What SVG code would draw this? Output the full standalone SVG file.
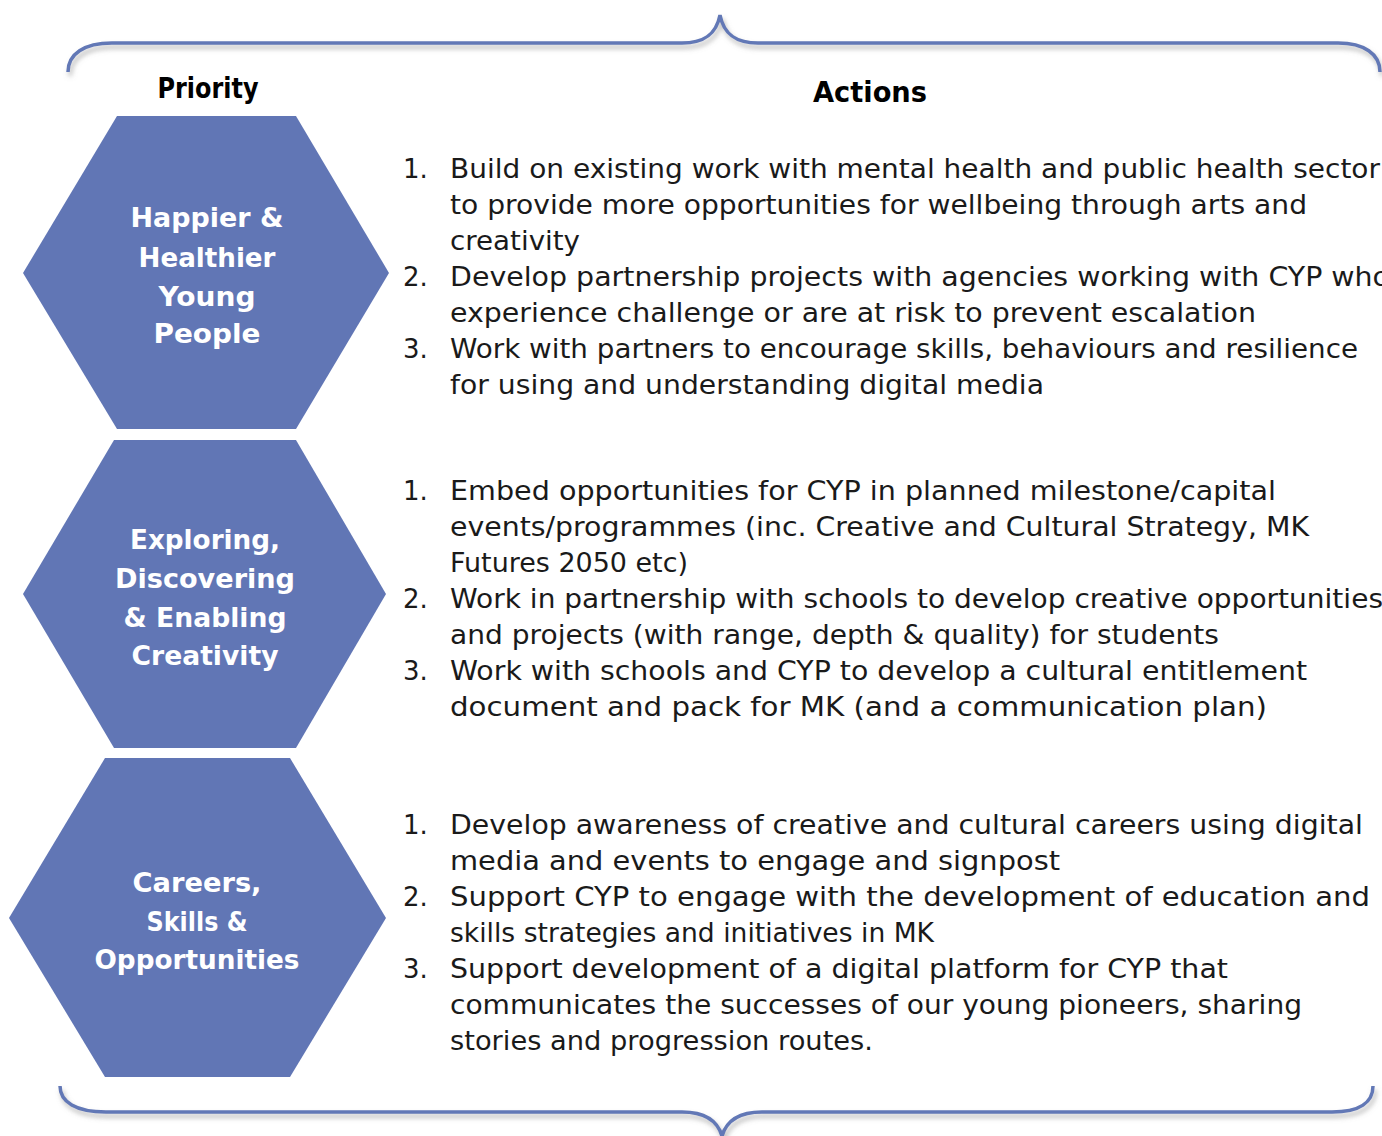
<svg xmlns="http://www.w3.org/2000/svg" width="1382" height="1136" viewBox="0 0 1382 1136">
<defs>
<filter id="sh" x="-5%" y="-50%" width="110%" height="200%">
<feDropShadow dx="2" dy="4" stdDeviation="2.5" flood-color="#808080" flood-opacity="0.55"/>
</filter>
<style>
.brace{fill:none;stroke:#6278B6;stroke-width:3.5;filter:url(#sh)}
.hex{fill:#6176B5}
.hl{font-family:"DejaVu Sans","Liberation Sans",sans-serif;font-weight:bold;font-size:27px;fill:#ffffff;text-anchor:middle}
.hd{font-family:"DejaVu Sans","Liberation Sans",sans-serif;font-weight:bold;font-size:29px;fill:#000000;text-anchor:middle}
.t{font-family:"DejaVu Sans","Liberation Sans",sans-serif;font-size:26px;fill:#1a1a1a}
</style>
</defs>
<rect width="1382" height="1136" fill="#ffffff"/>
<g id="connectors">
<path class="brace" d="M68,72 C68,54 84,43 112,43 L682,43 C702,43 716,36 720,15 C724,36 738,43 758,43 L1338,43 C1364,43 1380,54 1380,72"/>
<path class="brace" d="M60,1086 C60,1102 76,1112 106,1112 L682,1112 C703,1112 717,1119 722,1136 C727,1119 741,1112 762,1112 L1332,1112 C1360,1112 1373,1102 1373,1086"/>
</g>
<g id="headers">
<text class="hd" x="208" y="98" textLength="101" lengthAdjust="spacingAndGlyphs">Priority</text>
<text class="hd" x="870" y="102" textLength="114" lengthAdjust="spacingAndGlyphs">Actions</text>
</g>
<g id="node-happier">
<polygon class="hex" points="117,116 296,116 389,273 296,429 117,429 23,273"/>
<text class="hl" x="207" y="227" textLength="153" lengthAdjust="spacingAndGlyphs">Happier &amp;</text>
<text class="hl" x="207" y="267" textLength="137" lengthAdjust="spacingAndGlyphs">Healthier</text>
<text class="hl" x="207" y="306" textLength="97" lengthAdjust="spacingAndGlyphs">Young</text>
<text class="hl" x="207" y="343" textLength="107" lengthAdjust="spacingAndGlyphs">People</text>
</g>
<g id="node-exploring">
<polygon class="hex" points="114,440 296,440 386,594 296,748 114,748 23,594"/>
<text class="hl" x="205" y="549" textLength="150" lengthAdjust="spacingAndGlyphs">Exploring,</text>
<text class="hl" x="205" y="588" textLength="180" lengthAdjust="spacingAndGlyphs">Discovering</text>
<text class="hl" x="205" y="627" textLength="163" lengthAdjust="spacingAndGlyphs">&amp; Enabling</text>
<text class="hl" x="205" y="665" textLength="147" lengthAdjust="spacingAndGlyphs">Creativity</text>
</g>
<g id="node-careers">
<polygon class="hex" points="105,758 290,758 386,918 290,1077 105,1077 9,918"/>
<text class="hl" x="197" y="892" textLength="129" lengthAdjust="spacingAndGlyphs">Careers,</text>
<text class="hl" x="197" y="931" textLength="101" lengthAdjust="spacingAndGlyphs">Skills &amp;</text>
<text class="hl" x="197" y="969" textLength="205" lengthAdjust="spacingAndGlyphs">Opportunities</text>
</g>
<g id="actions-1">
<text class="t" x="403" y="178">1.</text>
<text class="t" x="450" y="178" textLength="930" lengthAdjust="spacingAndGlyphs">Build on existing work with mental health and public health sector</text>
<text class="t" x="450" y="214" textLength="857" lengthAdjust="spacingAndGlyphs">to provide more opportunities for wellbeing through arts and</text>
<text class="t" x="450" y="250" textLength="130" lengthAdjust="spacingAndGlyphs">creativity</text>
<text class="t" x="403" y="286">2.</text>
<text class="t" x="450" y="286" textLength="940" lengthAdjust="spacingAndGlyphs">Develop partnership projects with agencies working with CYP who</text>
<text class="t" x="450" y="322" textLength="806" lengthAdjust="spacingAndGlyphs">experience challenge or are at risk to prevent escalation</text>
<text class="t" x="403" y="358">3.</text>
<text class="t" x="450" y="358" textLength="908" lengthAdjust="spacingAndGlyphs">Work with partners to encourage skills, behaviours and resilience</text>
<text class="t" x="450" y="394" textLength="594" lengthAdjust="spacingAndGlyphs">for using and understanding digital media</text>
</g>
<g id="actions-2">
<text class="t" x="403" y="500">1.</text>
<text class="t" x="450" y="500" textLength="826" lengthAdjust="spacingAndGlyphs">Embed opportunities for CYP in planned milestone/capital</text>
<text class="t" x="450" y="536" textLength="859" lengthAdjust="spacingAndGlyphs">events/programmes (inc. Creative and Cultural Strategy, MK</text>
<text class="t" x="450" y="572" textLength="238" lengthAdjust="spacingAndGlyphs">Futures 2050 etc)</text>
<text class="t" x="403" y="608">2.</text>
<text class="t" x="450" y="608" textLength="933" lengthAdjust="spacingAndGlyphs">Work in partnership with schools to develop creative opportunities</text>
<text class="t" x="450" y="644" textLength="769" lengthAdjust="spacingAndGlyphs">and projects (with range, depth &amp; quality) for students</text>
<text class="t" x="403" y="680">3.</text>
<text class="t" x="450" y="680" textLength="857" lengthAdjust="spacingAndGlyphs">Work with schools and CYP to develop a cultural entitlement</text>
<text class="t" x="450" y="716" textLength="817" lengthAdjust="spacingAndGlyphs">document and pack for MK (and a communication plan)</text>
</g>
<g id="actions-3">
<text class="t" x="403" y="834">1.</text>
<text class="t" x="450" y="834" textLength="913" lengthAdjust="spacingAndGlyphs">Develop awareness of creative and cultural careers using digital</text>
<text class="t" x="450" y="870" textLength="610" lengthAdjust="spacingAndGlyphs">media and events to engage and signpost</text>
<text class="t" x="403" y="906">2.</text>
<text class="t" x="450" y="906" textLength="920" lengthAdjust="spacingAndGlyphs">Support CYP to engage with the development of education and</text>
<text class="t" x="450" y="942" textLength="484" lengthAdjust="spacingAndGlyphs">skills strategies and initiatives in MK</text>
<text class="t" x="403" y="978">3.</text>
<text class="t" x="450" y="978" textLength="778" lengthAdjust="spacingAndGlyphs">Support development of a digital platform for CYP that</text>
<text class="t" x="450" y="1014" textLength="852" lengthAdjust="spacingAndGlyphs">communicates the successes of our young pioneers, sharing</text>
<text class="t" x="450" y="1050" textLength="423" lengthAdjust="spacingAndGlyphs">stories and progression routes.</text>
</g>
</svg>
